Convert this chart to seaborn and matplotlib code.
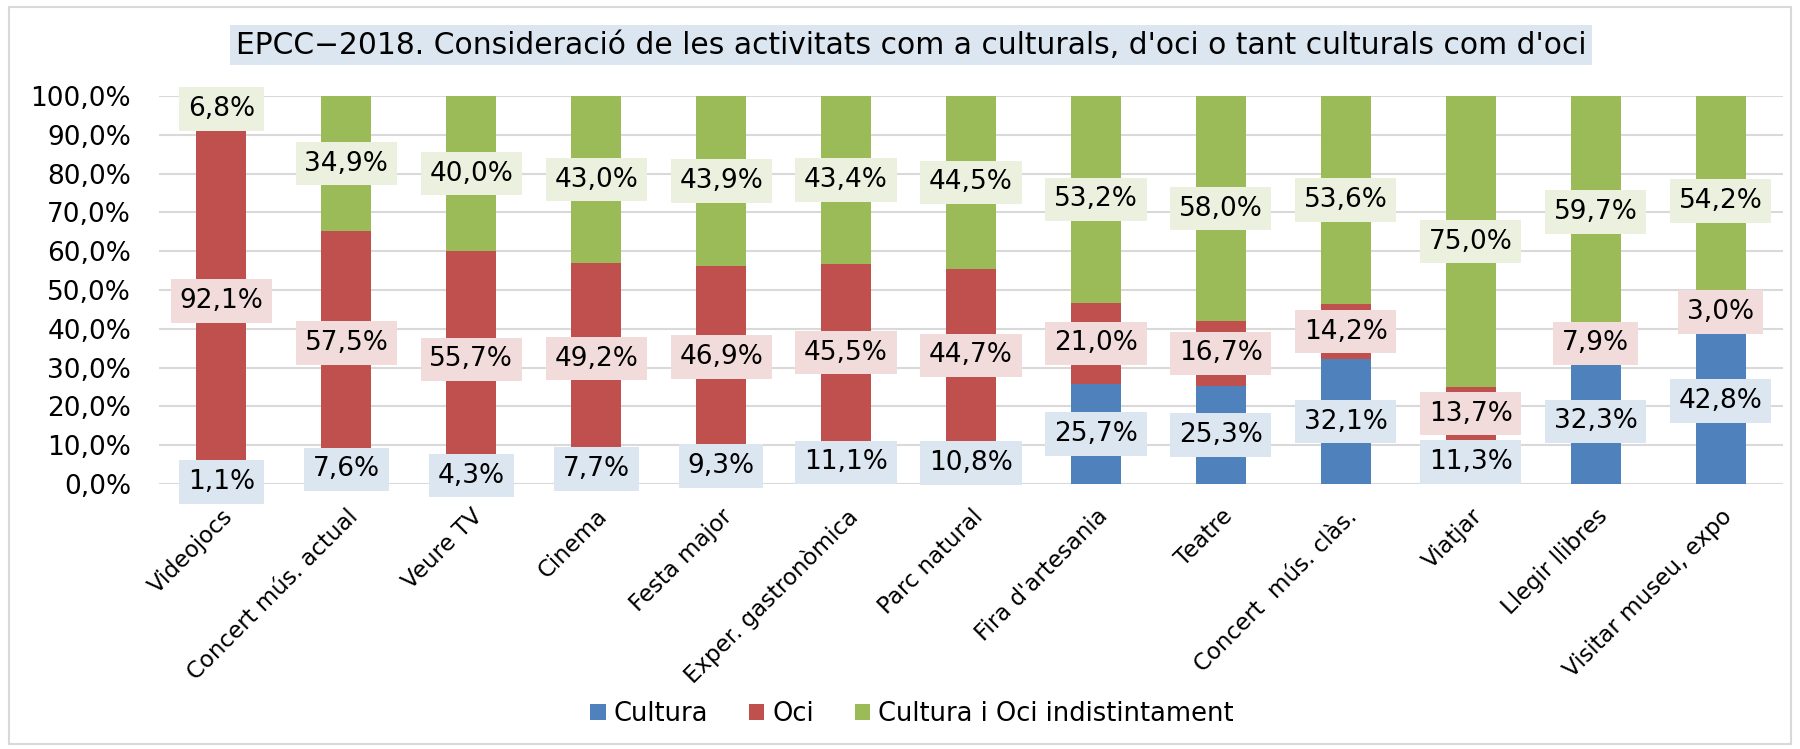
import numpy as np
import pandas as pd
import matplotlib
matplotlib.use("Agg")
import matplotlib.pyplot as plt
import seaborn as sns
from matplotlib.patches import Patch, Rectangle

categories = ["Videojocs", "Concert mús. actual", "Veure TV", "Cinema", "Festa major",
              "Exper. gastronòmica", "Parc natural", "Fira d'artesania", "Teatre",
              "Concert  mús. clàs.", "Viatjar", "Llegir llibres", "Visitar museu, expo"]
cultura = [1.1, 7.6, 4.3, 7.7, 9.3, 11.1, 10.8, 25.7, 25.3, 32.1, 11.3, 32.3, 42.8]
oci = [92.1, 57.5, 55.7, 49.2, 46.9, 45.5, 44.7, 21.0, 16.7, 14.2, 13.7, 7.9, 3.0]
ambdues = [6.8, 34.9, 40.0, 43.0, 43.9, 43.4, 44.5, 53.2, 58.0, 53.6, 75.0, 59.7, 54.2]
series_names = ["Cultura", "Oci", "Cultura i Oci indistintament"]
y_ticks = [0, 10, 20, 30, 40, 50, 60, 70, 80, 90, 100]
title = "EPCC\u22122018. Consideració de les activitats com a culturals, d'oci o tant culturals com d'oci"

colors = ["#4f81bd", "#c0504d", "#9bbb59"]
light = ["#dce6f1", "#f2dcdb", "#ebf1de"]

sns.set_style("white")
plt.rcParams['font.family'] = ['DejaVu Sans']
plt.rcParams['text.color'] = 'black'
plt.rcParams['xtick.color'] = 'black'
plt.rcParams['ytick.color'] = 'black'

# 100% stacked: normalise each category, then cumulative tops
df = pd.DataFrame({"cat": categories, "c": cultura, "o": oci, "a": ambdues})
tot = df[["c", "o", "a"]].sum(axis=1)
for k in ["c", "o", "a"]:
    df[k + "_n"] = df[k] / tot * 100
df["top_c"] = df["c_n"]
df["top_o"] = df["c_n"] + df["o_n"]
df["top_a"] = df["top_o"] + df["a_n"]

fig = plt.figure(figsize=(18, 7.49), dpi=100)
ax = fig.add_axes([159 / 1800, 1 - 484 / 749, 1624 / 1800, 388 / 749])

for col, color in zip(["top_a", "top_o", "top_c"], colors[::-1]):
    sns.barplot(data=df, x="cat", y=col, color=color, width=0.4, saturation=1,
                errorbar=None, ax=ax, zorder=2, linewidth=0)

# data labels at segment centres
bottoms = [np.zeros(len(df)), df["top_c"].values, df["top_o"].values]
heights = [df["c_n"].values, df["o_n"].values, df["a_n"].values]
raw = [cultura, oci, ambdues]
for s in range(3):
    for i in range(len(df)):
        yc = bottoms[s][i] + heights[s][i] / 2
        txt = f"{raw[s][i]:.1f}".replace(".", ",") + "%"
        ax.text(i, yc, txt, ha="center", va="center", fontsize=19, zorder=5,
                bbox=dict(boxstyle="square,pad=0.33", fc=light[s], ec="none"))

ax.set_ylim(0, 100)
ax.set_xlim(-0.5, len(categories) - 0.5)
ax.set_yticks(y_ticks)
ax.set_yticklabels([f"{v},0%" for v in y_ticks], fontsize=19)
ax.set_xticks(range(len(categories)))
ax.set_xticklabels(categories, rotation=45, ha="right", va="top",
                   rotation_mode="anchor", fontsize=16.5)
ax.tick_params(axis="y", length=0, pad=20)
ax.tick_params(axis="x", length=0, pad=15)
ax.set_xlabel("")
ax.set_ylabel("")
ax.yaxis.grid(True, color="#d9d9d9", lw=1.5)
ax.set_axisbelow(True)
for sp in ax.spines.values():
    sp.set_visible(False)

handles = [Patch(facecolor=c, edgecolor="none") for c in colors]
fig.legend(handles, series_names, loc="center", bbox_to_anchor=(912 / 1800, 1 - 714 / 749),
           ncol=3, frameon=False, fontsize=18.5, handlelength=0.6, handleheight=0.6,
           handletextpad=0.3, columnspacing=1.6)

fig.text(911 / 1800, 1 - 45 / 749, title, ha="center", va="center", fontsize=21.4,
         bbox=dict(boxstyle="square,pad=0.2", fc="#dce6f1", ec="none"))

fig.add_artist(Rectangle((9 / 1800, 5 / 749), 1782 / 1800, 737 / 749, transform=fig.transFigure,
                         fill=False, ec="#d9d9d9", lw=1.5))

fig.savefig("out.png", dpi=100)
